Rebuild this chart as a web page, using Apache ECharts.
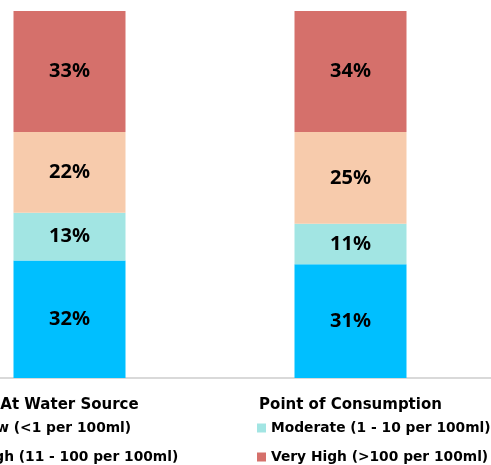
<!DOCTYPE html>
<html>
<head>
<meta charset="utf-8">
<script src="https://cdn.jsdelivr.net/npm/echarts@6/dist/echarts.min.js"></script>
<style>
  html, body { margin: 0; padding: 0; background: #ffffff; }
  #chart { width: 491px; height: 465px; }
</style>
</head>
<body>
<div id="chart"></div>
<script>
// Sampling points
const categories = ['At Water Source', 'Point of Consumption'];

// Share of samples per contamination level (%)
const lowValues = [32, 31];
const moderateValues = [13, 11];
const highValues = [22, 25];
const veryHighValues = [33, 34];

const seriesNames = [
  'Low (<1 per 100ml)',
  'Moderate (1 - 10 per 100ml)',
  'High (11 - 100 per 100ml)',
  'Very High (>100 per 100ml)'
];
const seriesColors = ['#00BFFF', '#A2E5E3', '#F7CBAC', '#D5706B'];
const seriesValues = [lowValues, moderateValues, highValues, veryHighValues];

const labelFont = '"Noto Sans", "DejaVu Sans", sans-serif';
const textFont = '"DejaVu Sans", sans-serif';

const chart = echarts.init(document.getElementById('chart'), null, { renderer: 'canvas' });

const series = seriesNames.map((name, i) => ({
  name: name,
  type: 'bar',
  stack: 'total',
  barWidth: 112,
  clip: true,
  data: seriesValues[i],
  itemStyle: { color: seriesColors[i] },
  label: {
    show: true,
    position: 'inside',
    formatter: '{c}%',
    color: '#000000',
    fontFamily: labelFont,
    fontWeight: 'bold',
    fontSize: 20
  },
  emphasis: { disabled: true }
}));

// Legend laid out as two columns, two rows
const legendSlots = [
  { left: -36, top: 421 },
  { left: 257, top: 421 },
  { left: -36, top: 450 },
  { left: 257, top: 450 }
];
const legends = seriesNames.map((name, i) => ({
  data: [name],
  left: legendSlots[i].left,
  top: legendSlots[i].top,
  itemWidth: 9,
  itemHeight: 9,
  itemGap: 5,
  icon: 'rect',
  padding: 0,
  selectedMode: false,
  textStyle: {
    color: '#000000',
    fontFamily: textFont,
    fontWeight: 'bold',
    fontSize: 13.8,
    padding: [0, 0, 0, 0]
  }
}));

chart.setOption({
  animation: false,
  backgroundColor: '#ffffff',
  grid: {
    left: -71, right: 0, top: 11, bottom: 87,
    containLabel: false,
    outerBoundsMode: 'none'
  },
  xAxis: {
    type: 'category',
    data: categories,
    axisLine: { show: true, lineStyle: { color: '#D9D9D9', width: 2 } },
    axisTick: { show: false },
    axisLabel: {
      interval: 0,
      hideOverlap: false,
      color: '#000000',
      fontFamily: textFont,
      fontWeight: 'bold',
      fontSize: 15,
      margin: 20
    }
  },
  yAxis: {
    type: 'value',
    min: 0,
    max: 100,
    show: false,
    splitLine: { show: false }
  },
  legend: legends,
  series: series
});
</script>
</body>
</html>
